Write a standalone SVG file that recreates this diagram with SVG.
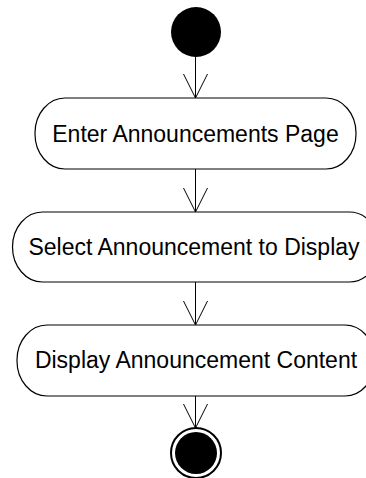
<svg xmlns="http://www.w3.org/2000/svg" width="366" height="478" viewBox="0 0 366 478">
<style>
.act{fill:#fff;stroke:#000;stroke-width:1.2}
.lbl{font-family:"Liberation Sans",Arial,sans-serif;font-size:23px;fill:#000;text-anchor:middle}
.edge{stroke:#000;stroke-width:1;fill:none}
</style>
<rect width="366" height="478" fill="#fff"/>
<g id="start">
<circle cx="196" cy="32" r="25" fill="#000"/>
</g>
<g id="n1">
<rect class="act" x="35" y="98" width="321" height="71" rx="30" ry="35"/>
<text class="lbl" x="195.5" y="141.5">Enter Announcements Page</text>
</g>
<g id="n2">
<rect class="act" x="12.5" y="212" width="367" height="70" rx="30" ry="35"/>
<text class="lbl" x="194" y="255">Select Announcement to Display</text>
</g>
<g id="n3">
<rect class="act" x="17" y="325" width="358" height="71" rx="30" ry="35"/>
<text class="lbl" x="196" y="368">Display Announcement Content</text>
</g>
<g id="end">
<circle cx="196" cy="453" r="25" fill="#fff" stroke="#000" stroke-width="2"/>
<circle cx="196" cy="453" r="21" fill="#000"/>
</g>
<g id="connectors" class="edge">
<path d="M195.5 57V98M183.5 74L195.5 98L207.5 74"/>
<path d="M195.5 169V212M183.5 188L195.5 212L207.5 188"/>
<path d="M195.5 282V325M183.5 301L195.5 325L207.5 301"/>
<path d="M195.5 396V428M183.5 404L195.5 428L207.5 404"/>
</g>
</svg>
